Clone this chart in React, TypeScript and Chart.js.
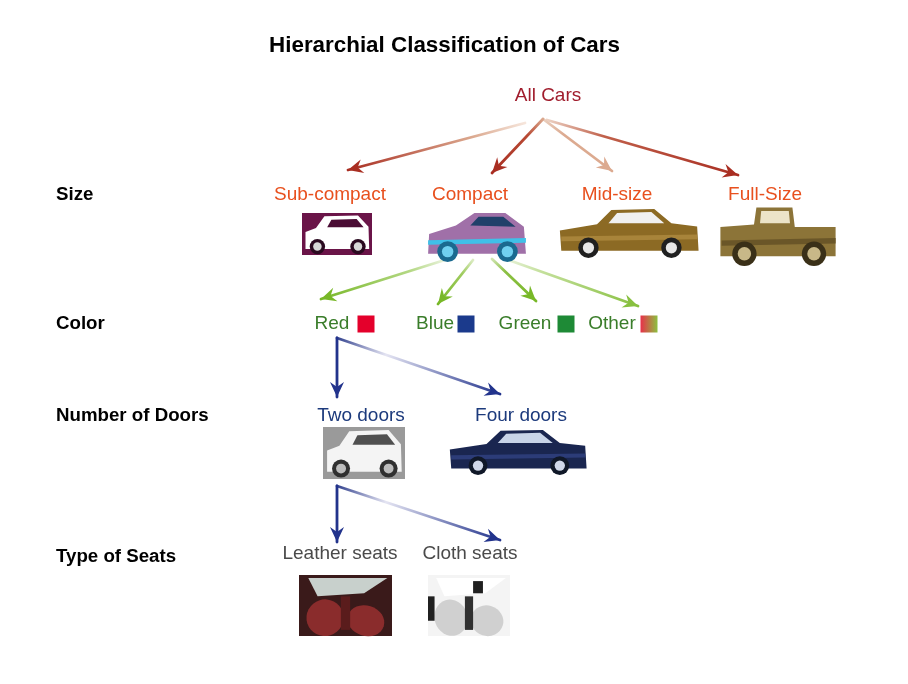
import React, { useEffect, useRef } from "react";
import Chart from "chart.js/auto";

const FONT = "'Liberation Sans', Arial, Helvetica, sans-serif";

const title = "Hierarchial Classification of Cars";

const levelNames = ["Size", "Color", "Number of Doors", "Type of Seats"];
const levelY = [195, 324, 416, 557];

const nodeLabels = [
  "All Cars",
  "Sub-compact",
  "Compact",
  "Mid-size",
  "Full-Size",
  "Red",
  "Blue",
  "Green",
  "Other",
  "Two doors",
  "Four doors",
  "Leather seats",
  "Cloth seats",
];
const nodeX = [548, 330, 470, 617, 765, 332, 435, 525, 612, 361, 521, 340, 470];
const nodeY = [96, 195, 195, 195, 195, 324, 324, 324, 324, 416, 416, 554, 554];
const nodeLevel = [0, 1, 1, 1, 1, 2, 2, 2, 2, 3, 3, 4, 4];

// arrows (parent -> child)
const edgeFromX = [525, 543, 543, 547, 448, 473, 492, 500, 337, 337, 337, 337];
const edgeFromY = [123, 119, 119, 120, 259, 260, 259, 257, 338, 338, 486, 486];
const edgeToX = [348, 492, 612, 738, 321, 438, 536, 638, 337, 500, 337, 500];
const edgeToY = [170, 173, 171, 175, 299, 304, 301, 306, 397, 394, 542, 540];

// colour swatches next to the colour labels
const swatchX = [366, 466, 566, 649];
const swatchY = [324, 324, 324, 324];

// ---- styles ----
const levelColors = ["#a01c2c", "#e8501e", "#3a7d2a", "#1c3a7c", "#4a4a4a"];
const edgeStops: string[][] = [
  ["#f6e6dc", "#dba88e", "#a92e22"],
  ["#dba88e", "#b84a34", "#a92e22"],
  ["#ead0c0", "#dcaa90", "#dcaa90"],
  ["#ecd2c4", "#c0604a", "#a92e22"],
  ["#eef5e4", "#b4d884", "#78b828"],
  ["#dcecc4", "#a0cc60", "#78b828"],
  ["#cfe4b0", "#8cc044", "#78b828"],
  ["#eef5e4", "#c4e09c", "#88c040"],
  ["#22338c", "#22338c", "#22338c"],
  ["#34438f", "#e4e4f2", "#22338c"],
  ["#22338c", "#22338c", "#22338c"],
  ["#34438f", "#e4e4f2", "#22338c"],
];
const swatchColors = ["#e4002b", "#1b3a8c", "#1e8a36", "other"];

type Pic = { box: [number, number, number, number]; kind: string };
const pictures: Pic[] = [
  { box: [302, 213, 372, 255], kind: "smart" },
  { box: [425, 210, 528, 262], kind: "compact" },
  { box: [557, 207, 700, 258], kind: "sedanGold" },
  { box: [718, 205, 838, 266], kind: "jeep" },
  { box: [323, 427, 405, 479], kind: "twoDoor" },
  { box: [447, 428, 588, 475], kind: "fourDoor" },
  { box: [299, 575, 392, 636], kind: "leather" },
  { box: [428, 575, 510, 636], kind: "cloth" },
];

type CarStyle = {
  body: string;
  glass: string;
  wheel: string;
  hub: string;
  bg?: string;
  shape: "hatch" | "sedan" | "jeep" | "tiny";
  accent?: string;
};

function drawCar(c: CanvasRenderingContext2D, x: number, y: number, w: number, h: number, s: CarStyle) {
  c.save();
  if (s.bg) {
    c.fillStyle = s.bg;
    c.fillRect(x, y, w, h);
  }
  const P = (px: number, py: number): [number, number] => [x + px * w, y + py * h];
  let bodyPts: [number, number][];
  let glassPts: [number, number][];
  if (s.shape === "sedan") {
    bodyPts = [P(0.03, 0.86), P(0.02, 0.46), P(0.28, 0.34), P(0.38, 0.06), P(0.68, 0.04), P(0.8, 0.32), P(0.98, 0.38), P(0.99, 0.86)];
    glassPts = [P(0.36, 0.32), P(0.42, 0.12), P(0.66, 0.1), P(0.75, 0.32)];
  } else if (s.shape === "jeep") {
    bodyPts = [P(0.02, 0.84), P(0.02, 0.36), P(0.3, 0.32), P(0.32, 0.04), P(0.62, 0.04), P(0.64, 0.36), P(0.98, 0.36), P(0.98, 0.84)];
    glassPts = [P(0.35, 0.3), P(0.36, 0.1), P(0.59, 0.1), P(0.6, 0.3)];
  } else if (s.shape === "tiny") {
    bodyPts = [P(0.05, 0.86), P(0.05, 0.45), P(0.2, 0.36), P(0.32, 0.08), P(0.8, 0.06), P(0.95, 0.33), P(0.96, 0.86)];
    glassPts = [P(0.36, 0.34), P(0.42, 0.16), P(0.78, 0.14), P(0.88, 0.34)];
  } else {
    bodyPts = [P(0.03, 0.84), P(0.04, 0.46), P(0.3, 0.3), P(0.48, 0.06), P(0.78, 0.06), P(0.96, 0.32), P(0.98, 0.84)];
    glassPts = [P(0.44, 0.3), P(0.52, 0.13), P(0.76, 0.13), P(0.88, 0.32)];
  }
  c.beginPath();
  bodyPts.forEach(([px, py], i) => (i ? c.lineTo(px, py) : c.moveTo(px, py)));
  c.closePath();
  c.fillStyle = s.body;
  c.fill();
  if (s.accent) {
    c.beginPath();
    c.moveTo(...P(0.03, 0.58));
    c.lineTo(...P(0.98, 0.54));
    c.lineTo(...P(0.98, 0.63));
    c.lineTo(...P(0.03, 0.67));
    c.closePath();
    c.fillStyle = s.accent;
    c.fill();
  }
  c.beginPath();
  glassPts.forEach(([px, py], i) => (i ? c.lineTo(px, py) : c.moveTo(px, py)));
  c.closePath();
  c.fillStyle = s.glass;
  c.fill();
  const r = Math.min(h * 0.2, w * 0.11);
  [0.22, 0.8].forEach((fx) => {
    const [cx, cy] = P(fx, 0.8);
    c.beginPath();
    c.arc(cx, cy, r, 0, Math.PI * 2);
    c.fillStyle = s.wheel;
    c.fill();
    c.beginPath();
    c.arc(cx, cy, r * 0.55, 0, Math.PI * 2);
    c.fillStyle = s.hub;
    c.fill();
  });
  c.restore();
}

function drawInterior(c: CanvasRenderingContext2D, x: number, y: number, w: number, h: number, leather: boolean) {
  c.save();
  c.fillStyle = leather ? "#3a1a1a" : "#f4f4f4";
  c.fillRect(x, y, w, h);
  // windows
  c.fillStyle = leather ? "#c8d0cc" : "#ffffff";
  c.beginPath();
  c.moveTo(x + w * 0.1, y + h * 0.05);
  c.lineTo(x + w * 0.95, y + h * 0.05);
  c.lineTo(x + w * 0.7, y + h * 0.3);
  c.lineTo(x + w * 0.2, y + h * 0.35);
  c.closePath();
  c.fill();
  // seats
  c.fillStyle = leather ? "#8a2c2c" : "#d0d0d0";
  c.beginPath();
  c.ellipse(x + w * 0.28, y + h * 0.7, w * 0.2, h * 0.3, -0.3, 0, Math.PI * 2);
  c.fill();
  c.beginPath();
  c.ellipse(x + w * 0.72, y + h * 0.75, w * 0.2, h * 0.25, 0.3, 0, Math.PI * 2);
  c.fill();
  c.fillStyle = leather ? "#5a1c1c" : "#303030";
  c.fillRect(x + w * 0.45, y + h * 0.35, w * 0.1, h * 0.55);
  if (!leather) {
    c.fillStyle = "#202020";
    c.fillRect(x, y + h * 0.35, w * 0.08, h * 0.4);
    c.fillRect(x + w * 0.55, y + h * 0.1, w * 0.12, h * 0.2);
  }
  c.restore();
}

const carStyles: Record<string, CarStyle> = {
  smart: { body: "#ffffff", glass: "#4a0c34", wheel: "#2a0a20", hub: "#d8d8d8", bg: "#6a1448", shape: "tiny" },
  compact: { body: "#a070a8", glass: "#20406a", wheel: "#1a6a90", hub: "#70d0f0", shape: "hatch", accent: "#40c0e8" },
  sedanGold: { body: "#8c6a24", glass: "#f0f0f0", wheel: "#202020", hub: "#e8e8e8", shape: "sedan", accent: "#a8843a" },
  jeep: { body: "#8c7438", glass: "#ece4c8", wheel: "#3a3018", hub: "#c8b888", shape: "jeep", accent: "#6a5628" },
  twoDoor: { body: "#f4f4f4", glass: "#505050", wheel: "#303030", hub: "#bdbdbd", bg: "#9a9a9a", shape: "tiny" },
  fourDoor: { body: "#1a2650", glass: "#c8d4e8", wheel: "#101828", hub: "#d0d8e8", shape: "sedan", accent: "#2c3c78" },
};

const diagramPlugin = {
  id: "diagram",
  afterDatasetsDraw(chart: any) {
    const c: CanvasRenderingContext2D = chart.ctx;
    const xs = chart.scales.x;
    const ys = chart.scales.y;
    const px = (v: number) => xs.getPixelForValue(v);
    const py = (v: number) => ys.getPixelForValue(v);
    c.save();
    c.textBaseline = "middle";

    // arrow heads
    edgeToX.forEach((tx, i) => {
      const x1 = px(tx);
      const y1 = py(edgeToY[i]);
      const a = Math.atan2(y1 - py(edgeFromY[i]), x1 - px(edgeFromX[i]));
      c.save();
      c.translate(x1, y1);
      c.rotate(a);
      c.beginPath();
      c.moveTo(0, 0);
      c.lineTo(-15, -7);
      c.lineTo(-10, 0);
      c.lineTo(-15, 7);
      c.closePath();
      c.fillStyle = edgeStops[i][2];
      c.fill();
      c.restore();
    });

    // pictures
    pictures.forEach((p) => {
      const x0 = px(p.box[0]);
      const y0 = py(p.box[1]);
      const w = px(p.box[2]) - x0;
      const h = py(p.box[3]) - y0;
      if (p.kind === "leather" || p.kind === "cloth") drawInterior(c, x0, y0, w, h, p.kind === "leather");
      else drawCar(c, x0, y0, w, h, carStyles[p.kind]);
    });

    // title
    c.fillStyle = "#000";
    c.textAlign = "center";
    c.font = `bold 22.4px ${FONT}`;
    c.fillText(title, px(444.5), py(46));

    // level names
    c.textAlign = "left";
    c.font = `bold 18.7px ${FONT}`;
    levelNames.forEach((n, i) => c.fillText(n, px(56), py(levelY[i])));

    // node labels
    c.textAlign = "center";
    c.font = `19px ${FONT}`;
    nodeLabels.forEach((n, i) => {
      c.fillStyle = levelColors[nodeLevel[i]];
      c.fillText(n, px(nodeX[i]), py(nodeY[i]));
    });

    // swatches
    swatchX.forEach((sx, i) => {
      const x0 = px(sx - 8.5);
      const y0 = py(swatchY[i] - 8.5);
      const s = px(sx + 8.5) - x0;
      if (swatchColors[i] === "other") {
        const g = c.createLinearGradient(x0, 0, x0 + s, 0);
        g.addColorStop(0, "#e8304a");
        g.addColorStop(1, "#8cc040");
        c.fillStyle = g;
      } else c.fillStyle = swatchColors[i];
      c.fillRect(x0, y0, s, s);
    });
    c.restore();
  },
};

export default function App() {
  const canvasRef = useRef<HTMLCanvasElement | null>(null);

  useEffect(() => {
    document.body.style.margin = "0";
    const canvas = canvasRef.current;
    if (!canvas) return;

    const datasets = edgeFromX.map((fx, i) => ({
      data: [
        { x: fx, y: edgeFromY[i] },
        { x: edgeToX[i], y: edgeToY[i] },
      ],
      showLine: true,
      pointRadius: 0,
      borderWidth: 2.8,
      borderCapStyle: "round" as const,
      borderColor: (ctx: any) => {
        const ch = ctx.chart;
        const xs = ch.scales?.x;
        const ys = ch.scales?.y;
        if (!xs || !ys || !ch.chartArea) return edgeStops[i][2];
        const g = ch.ctx.createLinearGradient(
          xs.getPixelForValue(fx),
          ys.getPixelForValue(edgeFromY[i]),
          xs.getPixelForValue(edgeToX[i]),
          ys.getPixelForValue(edgeToY[i])
        );
        g.addColorStop(0, edgeStops[i][0]);
        g.addColorStop(0.3, edgeStops[i][1]);
        g.addColorStop(1, edgeStops[i][2]);
        return g;
      },
    }));

    const chart = new Chart(canvas, {
      type: "scatter",
      data: { datasets },
      options: {
        responsive: false,
        animation: false,
        events: [],
        layout: { padding: 0 },
        plugins: {
          legend: { display: false },
          tooltip: { enabled: false },
          title: { display: false },
        },
        scales: {
          x: { type: "linear", min: 0, max: 908, display: false },
          y: { type: "linear", min: 0, max: 684, reverse: true, display: false },
        },
      },
      plugins: [diagramPlugin],
    } as any);

    return () => chart.destroy();
  }, []);

  return (
    <div style={{ width: 908, height: 684, background: "#fff" }}>
      <canvas ref={canvasRef} width={908} height={684} style={{ width: 908, height: 684 }} />
    </div>
  );
}
